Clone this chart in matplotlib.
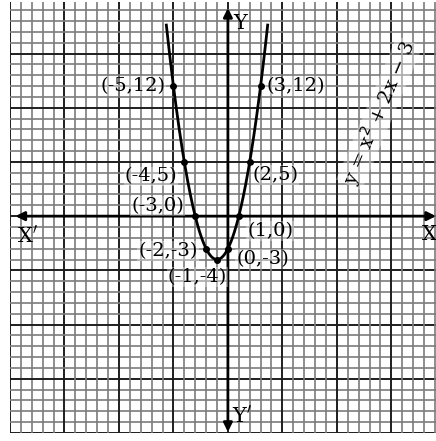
import matplotlib
matplotlib.use("Agg")
import matplotlib.pyplot as plt
import numpy as np

# points tabulated for y = x^2 + 2x - 3
xs = [-5, -4, -3, -2, -1, 0, 1, 2, 3]
ys = [12, 5, 0, -3, -4, -3, 0, 5, 12]
labels = ["(-5,12)", "(-4,5)", "(-3,0)", "(-2,-3)", "(-1,-4)",
          "(0,-3)", "(1,0)", "(2,5)", "(3,12)"]
# where each label sits relative to its point (dx, dy in points, ha, va)
offsets = [(-6, 0, "right", "center"),
           (-5, -4, "right", "top"),
           (-8, 1, "right", "bottom"),
           (-6, -2, "right", "center"),
           (-14, -6, "center", "top"),
           (6, -1, "left", "top"),
           (6, -4, "left", "top"),
           (2, -3, "left", "top"),
           (4, 0, "left", "center")]

x_curve_lo, x_curve_hi = -5.65, 3.65

plt.rcParams['font.family'] = ['DejaVu Serif']

fig = plt.figure(figsize=(4.36, 4.41), dpi=100)
ax = fig.add_axes([10 / 436, 8 / 441, 426 / 436, 431 / 441])
ax.set_xlim(-20, 19.1)
ax.set_ylim(-20, 19.75)
ax.axis("off")

# graph paper: 1 unit squares, darker line every 5
for v in range(-20, 21):
    major = v % 5 == 0
    c = "#1e1e1e" if major else "#7c7c7c"
    lw = 1.4 if major else 1.2
    ax.axvline(v, color=c, lw=lw, zorder=1)
    ax.axhline(v, color=c, lw=lw, zorder=1)

# axes with arrows
arrow = dict(arrowstyle="-|>", color="black", lw=2.0, mutation_scale=13,
             shrinkA=0, shrinkB=0)
ax.annotate("", xy=(19.1, 0), xytext=(0, 0), arrowprops=arrow, zorder=3)
ax.annotate("", xy=(-19.5, 0), xytext=(0, 0), arrowprops=arrow, zorder=3)
ax.annotate("", xy=(0, 19.2), xytext=(0, 0), arrowprops=arrow, zorder=3)
ax.annotate("", xy=(0, -19.9), xytext=(0, 0), arrowprops=arrow, zorder=3)

ax.text(-19.4, -0.8, "X$'$", ha="left", va="top", fontsize=15)
ax.text(17.8, -0.8, "X", ha="left", va="top", fontsize=15)
ax.text(0.5, 18.6, "Y", ha="left", va="top", fontsize=15)
ax.text(0.4, -17.4, "Y$'$", ha="left", va="top", fontsize=15)

# the parabola
xc = np.linspace(x_curve_lo, x_curve_hi, 300)
yc = xc ** 2 + 2 * xc - 3
ax.plot(xc, yc, color="black", lw=2.0, zorder=5)
ax.scatter(xs, ys, s=16, color="black", zorder=6)

for x, y, t, (dx, dy, ha, va) in zip(xs, ys, labels, offsets):
    ax.annotate(t, (x, y), xytext=(dx, dy), textcoords="offset points",
                ha=ha, va=va, fontsize=14, zorder=7,
                bbox=dict(boxstyle="square,pad=0.05", fc="white", ec="none", alpha=0.35))

ax.text(13.9, 9.5, "y = x$^2$ + 2x \u2212 3", rotation=67, ha="center", va="center",
        fontsize=14, zorder=7, rotation_mode="anchor",
        bbox=dict(boxstyle="square,pad=0.05", fc="white", ec="none", alpha=0.35))

fig.savefig("out.png", dpi=100, facecolor="white")
